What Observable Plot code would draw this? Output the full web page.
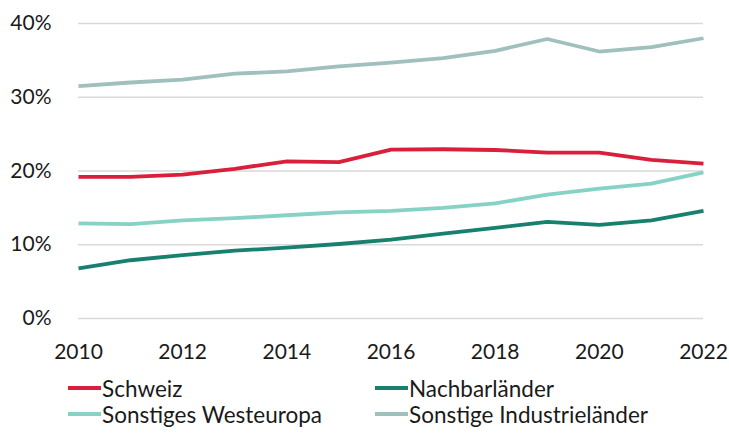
<!DOCTYPE html>
<html>
<head>
<meta charset="utf-8">
<script src="https://cdn.jsdelivr.net/npm/d3@7"></script>
<script src="https://cdn.jsdelivr.net/npm/@observablehq/plot@0.6"></script>
<style>
  html, body { margin: 0; padding: 0; background: #fff; }
  body { width: 729px; height: 433px; overflow: hidden; font-family: Lato, "Open Sans", sans-serif; }
  #legend { position: relative; height: 63px; font-size: 22.5px; color: #1a1a1a; }
  .item { position: absolute; display: flex; align-items: center; white-space: nowrap; }
  .sw { width: 33px; height: 4px; margin-right: 1px; }
</style>
</head>
<body>
<div id="chart"></div>
<div id="legend"></div>
<script>
const years = [2010, 2011, 2012, 2013, 2014, 2015, 2016, 2017, 2018, 2019, 2020, 2021, 2022];
const seriesNames = ["Schweiz", "Nachbarländer", "Sonstiges Westeuropa", "Sonstige Industrieländer"];
const seriesColors = ["#d91f3b", "#17806f", "#86d2c4", "#9fc0bc"];
const schweiz = [19.2, 19.2, 19.5, 20.3, 21.3, 21.2, 22.9, 22.95, 22.85, 22.5, 22.5, 21.5, 21.0];
const nachbar = [6.8, 7.9, 8.6, 9.2, 9.6, 10.1, 10.7, 11.5, 12.3, 13.1, 12.7, 13.3, 14.6];
const westeuropa = [12.9, 12.8, 13.3, 13.6, 14.0, 14.4, 14.6, 15.0, 15.6, 16.8, 17.6, 18.3, 19.8];
const industrie = [31.5, 32.0, 32.4, 33.2, 33.5, 34.2, 34.7, 35.3, 36.3, 37.9, 36.2, 36.8, 38.0];
const yTicks = [0, 10, 20, 30, 40];
const xTicks = [2010, 2012, 2014, 2016, 2018, 2020, 2022];

const seriesValues = [schweiz, nachbar, westeuropa, industrie];
const data = [];
seriesNames.forEach((name, i) => {
  years.forEach((y, j) => data.push({ series: name, year: y, value: seriesValues[i][j] }));
});

const chart = Plot.plot({
  width: 729,
  height: 370,
  marginLeft: 78,
  marginRight: 26,
  marginTop: 23,
  marginBottom: 52,
  style: { fontFamily: "Lato, 'Open Sans', sans-serif", fontSize: "21px", color: "#1a1a1a", background: "#fff" },
  x: { domain: [2010, 2022], ticks: xTicks, tickFormat: d => String(d), tickSize: 0, tickPadding: 26, label: null },
  y: { domain: [0, 40], ticks: yTicks, tickFormat: d => d + "%", tickSize: 0, tickPadding: 27, label: null },
  color: { domain: seriesNames, range: seriesColors },
  marks: [
    Plot.gridY(yTicks, { stroke: "#d9d9d9", strokeOpacity: 1, strokeWidth: 1.3 }),
    Plot.line(data, { x: "year", y: "value", z: "series", stroke: "series", strokeWidth: 3.8, strokeLinejoin: "round", strokeLinecap: "butt" })
  ]
});
document.getElementById("chart").appendChild(chart);

const legendPos = [[68, 18], [375, 18], [68, 44], [375, 44]];
const legend = document.getElementById("legend");
seriesNames.forEach((name, i) => {
  const item = document.createElement("div");
  item.className = "item";
  item.style.left = legendPos[i][0] + "px";
  item.style.top = (legendPos[i][1] - 13) + "px";
  item.style.height = "26px";
  const sw = document.createElement("span");
  sw.className = "sw";
  sw.style.background = seriesColors[i];
  const tx = document.createElement("span");
  tx.textContent = name;
  item.appendChild(sw);
  item.appendChild(tx);
  legend.appendChild(item);
});
</script>
</body>
</html>
